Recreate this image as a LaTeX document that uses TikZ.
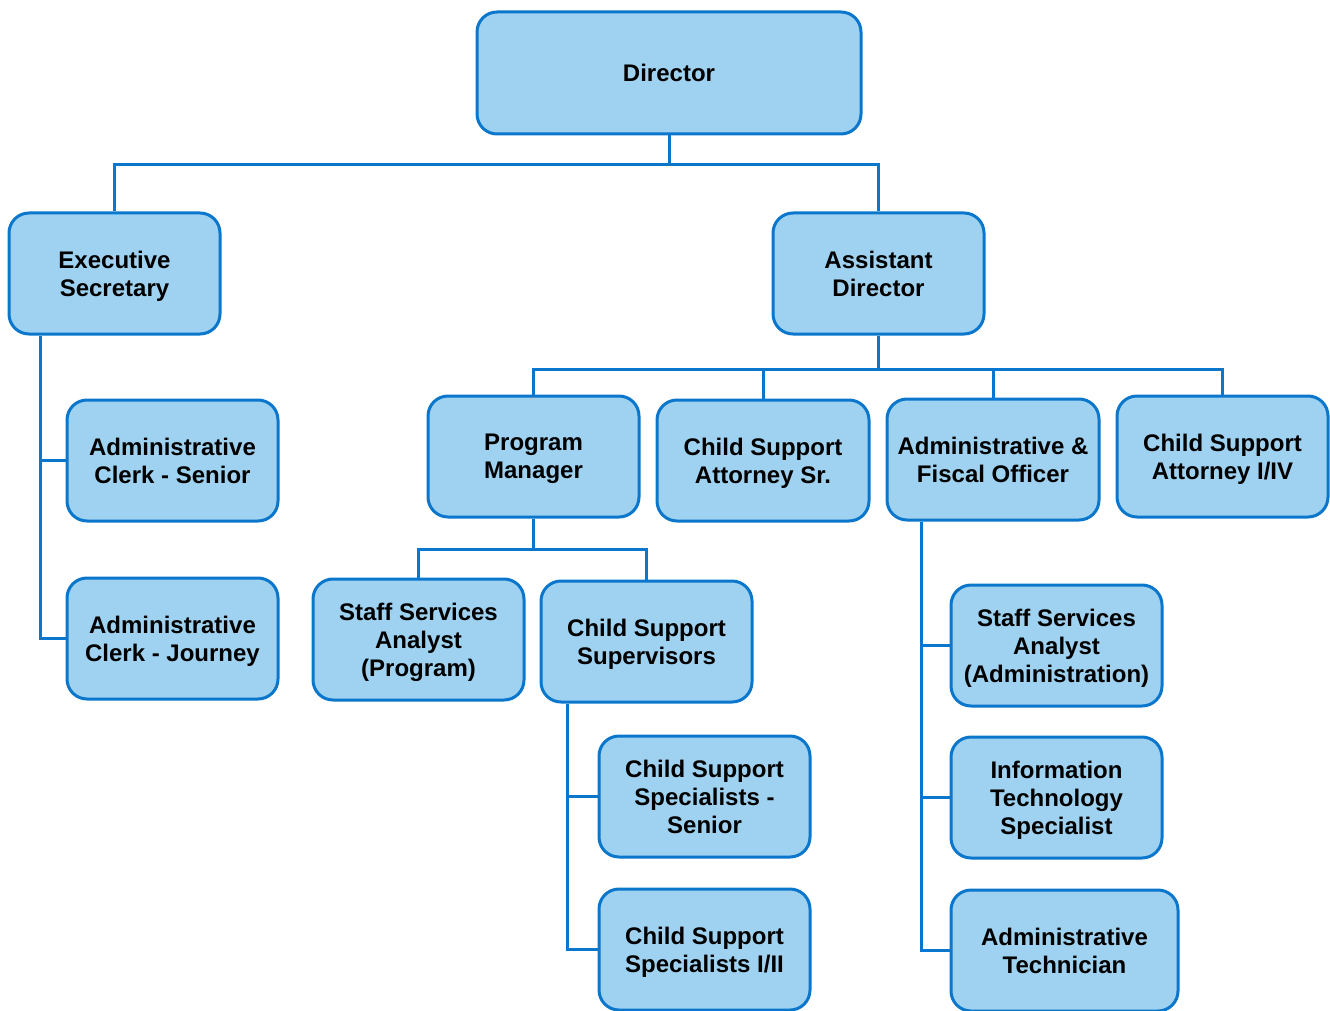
\documentclass[tikz,border=0pt]{standalone}
\usepackage{fontspec}
\setmainfont{Liberation Sans}
\definecolor{boxfill}{HTML}{9FD2F0}
\definecolor{boxline}{HTML}{0A77CC}
\begin{document}
\begin{tikzpicture}[x=1pt,y=-1pt,
  box/.style={draw=boxline, fill=boxfill, line width=3pt, rounded corners=20pt,
    align=center, inner sep=0pt, text depth=-2pt, font=\fontsize{24}{28}\selectfont\bfseries},
  link/.style={draw=boxline, line width=3pt}]
\fill[white] (0,0) rectangle (1330,1011);
\useasboundingbox (0,0) rectangle (1330,1011);
\begin{scope}
\clip (0,0) rectangle (1330,1011);
% nodes
\node[box, minimum width=384pt, minimum height=122pt] (dir) at (669,73) {Director};
\node[box, minimum width=211pt, minimum height=121pt] (es) at (114.5,273.5) {Executive\\Secretary};
\node[box, minimum width=211pt, minimum height=121pt] (ad) at (878.5,273.5) {Assistant\\Director};
\node[box, minimum width=211pt, minimum height=121pt] (acs) at (172.5,460.5) {Administrative\\Clerk - Senior};
\node[box, minimum width=211pt, minimum height=121pt] (acj) at (172.5,638.5) {Administrative\\Clerk - Journey};
\node[box, minimum width=211pt, minimum height=121pt] (pm) at (533.5,456.5) {Program\\Manager};
\node[box, minimum width=212pt, minimum height=121pt] (csas) at (763,460.5) {Child Support\\Attorney Sr.};
\node[box, minimum width=212pt, minimum height=121pt] (afo) at (993,459.5) {Administrative \&\\Fiscal Officer};
\node[box, minimum width=211pt, minimum height=121pt] (csa) at (1222.5,456.5) {Child Support\\Attorney I/IV};
\node[box, minimum width=211pt, minimum height=121pt] (ssap) at (418.5,639.5) {Staff Services\\Analyst\\(Program)};
\node[box, minimum width=211pt, minimum height=121pt] (cssup) at (646.5,641.5) {Child Support\\Supervisors};
\node[box, minimum width=211pt, minimum height=121pt] (csss) at (704.5,796.5) {Child Support\\Specialists -\\Senior};
\node[box, minimum width=211pt, minimum height=121pt] (css) at (704.5,949.5) {Child Support\\Specialists I/II};
\node[box, minimum width=211pt, minimum height=121pt] (ssaa) at (1056.5,645.5) {Staff Services\\Analyst\\(Administration)};
\node[box, minimum width=211pt, minimum height=121pt] (its) at (1056.5,797.5) {Information\\Technology\\Specialist};
\node[box, minimum width=227pt, minimum height=121pt] (at) at (1064.5,950.5) {Administrative\\Technician};
% rails
\coordinate (esx) at (40,0);
\coordinate (supx) at (567,0);
\coordinate (afox) at (921,0);
% connectors
\draw[link] (dir.south) -- ++(0,29) -| (es.north);
\draw[link] (dir.south) -- ++(0,29) -| (ad.north);
\draw[link] (es.south -| esx) |- (acs.west);
\draw[link] (es.south -| esx) |- (acj.west);
\draw[link] (ad.south) -- ++(0,34) -| (pm.north);
\draw[link] (ad.south) -- ++(0,34) -| (csas.north);
\draw[link] (ad.south) -- ++(0,34) -| (afo.north);
\draw[link] (ad.south) -- ++(0,34) -| (csa.north);
\draw[link] (pm.south) -- ++(0,31) -| (ssap.north);
\draw[link] (pm.south) -- ++(0,31) -| (cssup.north);
\draw[link] (cssup.south -| supx) |- (csss.west);
\draw[link] (cssup.south -| supx) |- (css.west);
\draw[link] (afo.south -| afox) |- (ssaa.west);
\draw[link] (afo.south -| afox) |- (its.west);
\draw[link] (afo.south -| afox) |- (at.west);
\end{scope}
\end{tikzpicture}
\end{document}
